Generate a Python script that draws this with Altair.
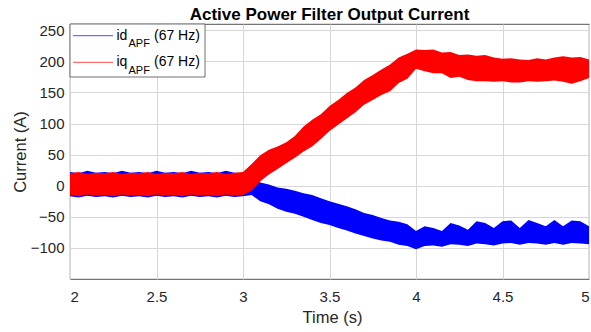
import altair as alt
import pandas as pd

# Sample times (s)
time_s = [2.00, 2.05, 2.10, 2.15, 2.20, 2.25, 2.30, 2.35, 2.40, 2.45,
          2.50, 2.55, 2.60, 2.65, 2.70, 2.75, 2.80, 2.85, 2.90, 2.95,
          3.00, 3.05, 3.10, 3.15, 3.20, 3.25, 3.30, 3.35, 3.40, 3.45,
          3.50, 3.55, 3.60, 3.65, 3.70, 3.75, 3.80, 3.85, 3.90, 3.95,
          4.00, 4.05, 4.10, 4.15, 4.20, 4.25, 4.30, 4.35, 4.40, 4.45,
          4.50, 4.55, 4.60, 4.65, 4.70, 4.75, 4.80, 4.85, 4.90, 4.95,
          5.00]

# d-axis current ripple envelope (A)
id_upper = [22, 20, 24, 21, 22, 20, 24, 21, 22, 20,
            24, 21, 22, 20, 24, 21, 22, 20, 24, 21,
            20, 12, 5, 2, -3, -5, -8, -12, -15, -20,
            -25, -29, -33, -38, -44, -47, -52, -56, -58, -62,
            -73, -65, -68, -73, -60, -64, -71, -57, -60, -68,
            -57, -56, -68, -55, -60, -65, -55, -65, -56, -57,
            -65]
id_lower = [-17, -19, -16, -18, -17, -19, -16, -18, -17, -19,
            -16, -18, -17, -19, -16, -18, -17, -19, -16, -18,
            -17, -15, -25, -30, -37, -42, -45, -50, -55, -60,
            -63, -68, -72, -77, -81, -85, -88, -90, -95, -97,
            -102, -97, -96, -98, -94, -95, -97, -93, -94, -96,
            -93, -92, -95, -92, -93, -95, -92, -95, -92, -93,
            -94]

# q-axis current ripple envelope (A)
iq_upper = [20, 22, 19, 21, 20, 22, 19, 21, 20, 22,
            19, 21, 20, 22, 19, 21, 20, 22, 19, 21,
            22, 35, 49, 58, 63, 70, 80, 95, 106, 115,
            128, 138, 149, 158, 170, 178, 187, 195, 206, 212,
            219, 218, 219, 214, 215, 210, 211, 209, 210, 206,
            204, 205, 203, 202, 205, 203, 206, 208, 206, 207,
            203]
iq_lower = [-15, -17, -14, -16, -15, -17, -14, -16, -15, -17,
            -14, -16, -15, -17, -14, -16, -15, -17, -14, -16,
            -15, -8, 7, 18, 27, 36, 45, 55, 63, 75,
            88, 98, 108, 118, 130, 138, 146, 152, 165, 172,
            188, 184, 181, 181, 173, 175, 170, 168, 168, 167,
            168, 166, 166, 168, 167, 168, 169, 167, 164, 168,
            173]

FONT = "Liberation Sans"
INK = "#262626"

id_df = pd.DataFrame({"t": time_s, "lo": id_lower, "hi": id_upper})
iq_df = pd.DataFrame({"t": time_s, "lo": iq_lower, "hi": iq_upper})
one_row = pd.DataFrame({"k": [0]})

x_enc = alt.X(
    "t:Q",
    scale=alt.Scale(domain=[2, 5], nice=False, zero=False),
    axis=alt.Axis(
        values=[2, 2.5, 3, 3.5, 4, 4.5, 5],
        labelExpr="'' + datum.value",
        title="Time (s)",
        titleX=262,
        titleY=43.5,
        titleBaseline="alphabetic",
        labelPadding=22,
        labelBaseline="alphabetic",
    ),
)
y_enc = alt.Y(
    "lo:Q",
    scale=alt.Scale(domain=[-150, 260], nice=False, zero=False),
    axis=alt.Axis(
        values=[-100, -50, 0, 50, 100, 150, 200, 250],
        title="Current (A)",
        titleAngle=270,
        titleX=-45,
        titleY=127.5,
        titleAlign="center",
        titleBaseline="alphabetic",
        labelPadding=6,
        labelBaseline="middle",
    ),
)

id_band = alt.Chart(id_df).mark_area(color="#0000ff", clip=True).encode(
    x=x_enc, y=y_enc, y2="hi:Q"
)
iq_band = alt.Chart(iq_df).mark_area(color="#ff0000", clip=True).encode(
    x=x_enc, y=y_enc, y2="hi:Q"
)

# Legend box drawn in pixel space of the plot area
legend_box = alt.Chart(one_row).mark_rect(
    fill="white", stroke="#404040", strokeWidth=0.75
).encode(x=alt.value(0), x2=alt.value(135), y=alt.value(0), y2=alt.value(53))

legend_id_line = alt.Chart(one_row).mark_rule(
    color="#0000ff", strokeWidth=1, opacity=0.7
).encode(x=alt.value(3), x2=alt.value(43), y=alt.value(11.7))
legend_iq_line = alt.Chart(one_row).mark_rule(
    color="#ff0000", strokeWidth=1, opacity=0.7
).encode(x=alt.value(3), x2=alt.value(43), y=alt.value(38.3))


def text_at(txt, x, y, size, weight="normal", align="left"):
    return alt.Chart(one_row).mark_text(
        text=txt, font=FONT, fontSize=size, fontWeight=weight, color="black",
        align=align, baseline="alphabetic"
    ).encode(x=alt.value(x), y=alt.value(y))


legend = [
    legend_box, legend_id_line, legend_iq_line,
    text_at("id", 46.5, 15.5, 14),
    text_at("APF", 58.5, 23, 11),
    text_at("(67 Hz)", 84, 15.5, 14),
    text_at("iq", 46.5, 42, 14),
    text_at("APF", 58.5, 49.5, 11),
    text_at("(67 Hz)", 84, 42, 14),
]

# Plot heading, centred over the plot area
heading = text_at("Active Power Filter Output Current", 259.5, -4.5, 17,
                  weight="bold", align="center")

chart = alt.layer(id_band, iq_band, *legend, heading).properties(
    width=519,
    height=255,
    background="white",
    autosize=alt.AutoSizeParams(type="none"),
    padding={"left": 70, "top": 24, "right": 2, "bottom": 53},
).configure_axis(
    labelFont=FONT,
    labelFontSize=15,
    labelColor=INK,
    titleFont=FONT,
    titleFontSize=16.5,
    titleFontWeight="normal",
    titleColor=INK,
    grid=True,
    gridColor="#d7d7d7",
    gridWidth=1,
    domain=False,
    ticks=True,
    tickSize=0,
).configure_view(
    stroke=INK, strokeWidth=0.8
)

chart.save("out.html", embed_options={"renderer": "svg", "actions": False})
